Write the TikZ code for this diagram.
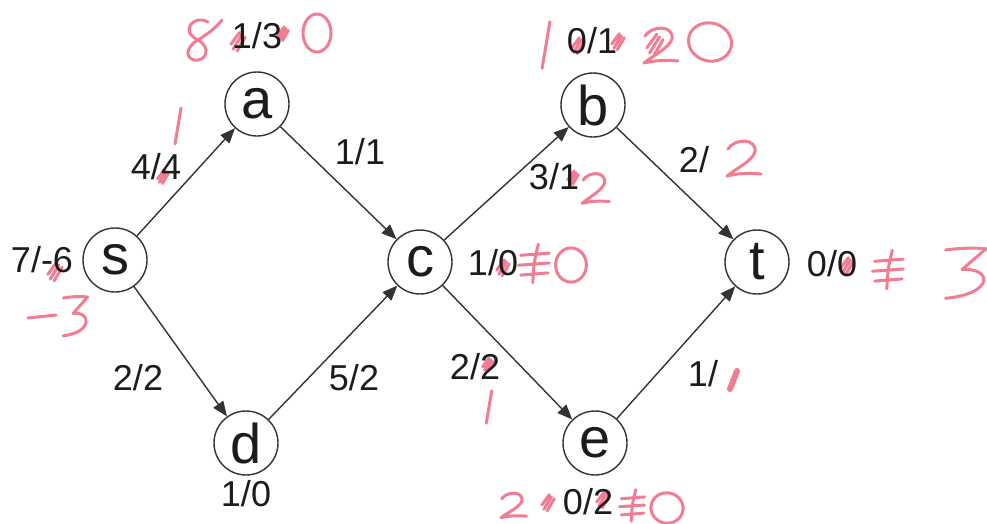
\documentclass[tikz,border=0pt]{standalone}
\usepackage{fontspec}
\setmainfont{Liberation Sans}
\usetikzlibrary{arrows.meta}
\definecolor{ink}{HTML}{1C1C1C}
\definecolor{edgeink}{HTML}{333333}
\definecolor{pen}{HTML}{F27C92}
\tikzset{
  vert/.style={circle, draw=edgeink, line width=1.4pt, minimum size=64pt, inner sep=0pt, text=ink, font=\fontsize{56}{56}\selectfont},
  lab/.style={inner sep=0pt, text=ink, font=\fontsize{36}{38}\selectfont},
  flow/.style={draw=edgeink, line width=1.4pt, -{Triangle[length=15pt,width=12pt]}},
  penline/.style={draw=pen, line width=3pt, line cap=round, line join=round},
  hzero/.pic={\draw[penline] (0,0) ellipse [x radius=14, y radius=19];},
  hone/.pic={\draw[penline] (3,-18) -- (-3,18);},
  htwo/.pic={\draw[penline] (-15,-9) .. controls (-8,-20) and (14,-20) .. (12,-6) .. controls (9,3) and (-6,10) .. (-16,18) .. controls (-4,15) and (8,15) .. (18,16);},
  hthree/.pic={\draw[penline] (-13,-20) .. controls (-2,-22) and (8,-22) .. (14,-21) -- (-2,-3) .. controls (18,-5) and (20,18) .. (-13,22);},
  height/.pic={\draw[penline] (10,-18) .. controls (-2,-26) and (-20,-10) .. (0,0) .. controls (14,8) and (8,22) .. (-4,20) .. controls (-16,16) and (-8,4) .. (0,0) .. controls (8,-5) and (18,-12) .. (24,-20);},
  hneq/.pic={\draw[penline] (-13,-7) -- (13,-9) (-15,2) -- (13,0) (-13,11) -- (12,9) (3,-17) .. controls (-1,0) .. (-2,18);},
  hscrib/.pic={\draw[penline] (-6,9) -- (5,-9) (-1,11) -- (9,-6) (-9,3) -- (2,-12);},
}
\begin{document}
\begin{tikzpicture}[x=1pt,y=-1pt]
\useasboundingbox (0,0) rectangle (987,523);
% handwritten annotations
\pic at (198,40) {height};
\pic[scale=0.8] at (238,42) {hscrib};
\pic[scale=0.6] at (283,34) {hscrib};
\pic at (317,33) {hzero};
\pic[scale=1.3] at (546,45) {hone};
\pic[scale=0.7] at (578,46) {hscrib};
\pic[scale=0.7] at (618,42) {hscrib};
\pic at (660,45) {htwo};
\pic[scale=0.9] at (655,45) {hscrib};
\pic[rotate=-15,xscale=1.55,yscale=1.0] at (710,42) {hzero};
\pic[scale=0.8] at (55,272) {hscrib};
\draw[penline] (28,318) -- (56,315);
\pic[xscale=0.9,yscale=0.9] at (75,316) {hthree};
\pic at (178,126) {hone};
\pic[scale=0.6] at (163,177) {hscrib};
\pic[scale=0.6] at (573,178) {hscrib};
\pic[xscale=0.8,yscale=0.85] at (595,188) {htwo};
\pic[scale=0.7] at (503,268) {hscrib};
\pic[scale=1.1] at (535,263) {hneq};
\pic[xscale=1.1,yscale=0.9] at (571,265) {hzero};
\pic[scale=0.6] at (488,365) {hscrib};
\pic[scale=0.9] at (489,407) {hone};
\draw[penline, line width=6pt] (737,371) -- (730,389);
\pic at (743,158) {htwo};
\pic[scale=0.7] at (847,266) {hscrib};
\pic[scale=1.1] at (889,269) {hneq};
\pic[xscale=1.5,yscale=1.15] at (965,273) {hthree};
\pic[xscale=0.75,yscale=0.7] at (513,505) {htwo};
\pic[scale=0.7] at (548,503) {hscrib};
\pic[scale=0.7] at (603,500) {hscrib};
\pic[scale=0.9] at (633,505) {hneq};
\pic[rotate=-10,xscale=1.15,yscale=0.8] at (667,508) {hzero};
% vertices
\node[vert] (s) at (115,260) {s};
\node[vert] (a) at (257,104) {a};
\node[vert] (c) at (420,262) {c};
\node[vert] (d) at (246,443) {d};
\node[vert] (b) at (593,105) {b};
\node[vert] (e) at (595,443) {e};
\node[vert] (t) at (757,262) {t};
% edges
\draw[flow] (s) -- (a);
\draw[flow] (a) -- (c);
\draw[flow] (s) -- (d);
\draw[flow] (d) -- (c);
\draw[flow] (c) -- (b);
\draw[flow] (b) -- (t);
\draw[flow] (c) -- (e);
\draw[flow] (e) -- (t);
% labels
\node[lab] (ls) at (42,260) {7/-6};
\node[lab] (la) at (257,36) {1/3};
\node[lab] (lb) at (592,41) {0/1};
\node[lab] (lc) at (493,263) {1/0};
\node[lab] (lt) at (832,264) {0/0};
\node[lab] (ld) at (246,494) {1/0};
\node[lab] (le) at (588,502) {0/2};
\node[lab] (lsa) at (156,167) {4/4};
\node[lab] (lac) at (360,152) {1/1};
\node[lab] (lsd) at (138,378) {2/2};
\node[lab] (ldc) at (354,378) {5/2};
\node[lab] (lcb) at (554,177) {3/1};
\node[lab] (lbt) at (694,160) {2/};
\node[lab] (lce) at (475,367) {2/2};
\node[lab] (let) at (703,374) {1/};
\end{tikzpicture}
\end{document}
